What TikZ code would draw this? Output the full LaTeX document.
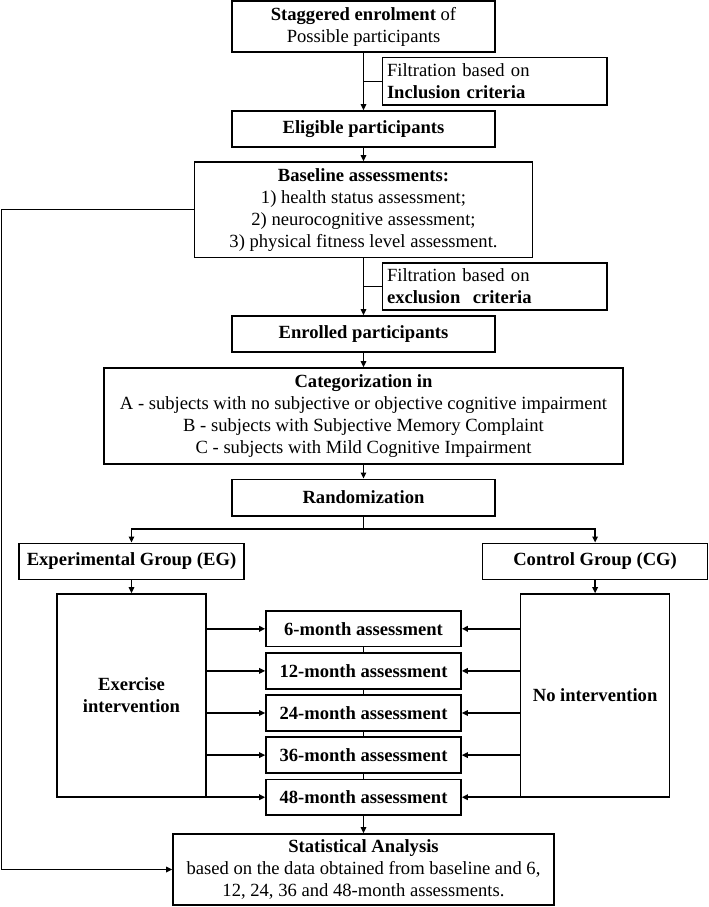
\documentclass[tikz,border=0pt]{standalone}
\usepackage{fontspec}
\setmainfont{Liberation Serif}
\usetikzlibrary{arrows.meta}
\newcommand\fsz{\fontsize{18.6}{22}\selectfont}
\begin{document}
\begin{tikzpicture}[x=1pt,y=-1pt,
  box/.style={draw, line width=1.6pt, align=center, inner sep=0pt, font=\fsz},
  bbox/.style={box, font=\fsz\bfseries},
  fbox/.style={box, align=left, minimum width=224.5pt, minimum height=47.3pt, text width=215.5pt, inner xsep=4.5pt},
  abox/.style={bbox, minimum width=195pt, minimum height=35.7pt},
  ln/.style={line width=1.6pt},
  arr/.style={line width=1.6pt, -{Triangle[length=6pt,width=5.5pt]}}]
\useasboundingbox (0,0) rectangle (709,907);

\node[box, minimum width=263pt, minimum height=51pt] (stag) at (363.5,26.8) {\textbf{Staggered enrolment} of\\Possible participants};
\node[fbox] (f1) at (494.75,81.35) {Filtration based on\\\textbf{Inclusion criteria}};
\node[bbox, minimum width=263pt, minimum height=35.7pt] (elig) at (363.5,128.85) {Eligible participants};
\node[box, minimum width=338pt, minimum height=95.3pt] (base) at (363.5,209.65) {\textbf{Baseline assessments:}\\1) health status assessment;\\2) neurocognitive assessment;\\3) physical fitness level assessment.};
\node[fbox] (f2) at (494.75,286.5) {Filtration based on\\\textbf{exclusion\ \ criteria}};
\node[bbox, minimum width=263pt, minimum height=35.7pt] (enr) at (363.5,333.85) {Enrolled participants};
\node[box, minimum width=519pt, minimum height=95.7pt] (cat) at (363.5,415.85) {\textbf{Categorization in}\\A - subjects with no subjective or objective cognitive impairment\\B - subjects with Subjective Memory Complaint\\C - subjects with Mild Cognitive Impairment};
\node[bbox, minimum width=263pt, minimum height=36.4pt] (rand) at (363.5,497.5) {Randomization};
\node[bbox, minimum width=225pt, minimum height=36pt] (eg) at (131.5,561.3) {Experimental Group (EG)};
\node[bbox, minimum width=225pt, minimum height=36pt] (cg) at (595.1,561.3) {Control Group (CG)};
\node[bbox, minimum width=149.4pt, minimum height=203pt] (ex) at (131.5,695.5) {Exercise\\intervention};
\node[bbox, minimum width=149pt, minimum height=203pt] (noint) at (595.1,695.5) {No intervention};
\node[abox] (a6) at (363.5,628.8) {6-month assessment};
\node[abox] (a12) at (363.5,670.9) {12-month assessment};
\node[abox] (a24) at (363.5,713.0) {24-month assessment};
\node[abox] (a36) at (363.5,755.1) {36-month assessment};
\node[abox] (a48) at (363.5,797.2) {48-month assessment};
\node[box, minimum width=381pt, minimum height=71pt] (stat) at (363.5,869.5) {\textbf{Statistical Analysis}\\based on the data obtained from baseline and 6,\\12, 24, 36 and 48-month assessments.};

\draw[arr] (stag.south) -- (elig.north);
\draw[ln] (f1.west) -- (f1.west -| stag.south);
\draw[arr] (elig.south) -- (base.north);
\draw[arr] (base.south) -- (enr.north);
\draw[ln] (f2.west) -- (f2.west -| base.south);
\draw[arr] (enr.south) -- (cat.north);
\draw[arr] (cat.south) -- (rand.north);
\coordinate (sp) at (363.5,529);
\draw[ln] (rand.south) -- (sp);
\draw[arr] (sp) -| (eg.north);
\draw[arr] (sp) -| (cg.north);
\draw[arr] (eg.south) -- (ex.north);
\draw[arr] (cg.south) -- (noint.north);
\foreach \a in {a6,a12,a24,a36,a48}{
  \draw[arr] (ex.east |- \a.west) -- (\a.west);
  \draw[arr] (noint.west |- \a.east) -- (\a.east);
}
\draw[ln] (a6.south) -- (a12.north);
\draw[ln] (a12.south) -- (a24.north);
\draw[ln] (a24.south) -- (a36.north);
\draw[ln] (a36.south) -- (a48.north);
\draw[arr] (a48.south) -- (stat.north);
\coordinate (lft) at (1.5,209.65);
\draw[arr] (base.west) -- (lft) |- (stat.west);
\end{tikzpicture}
\end{document}
